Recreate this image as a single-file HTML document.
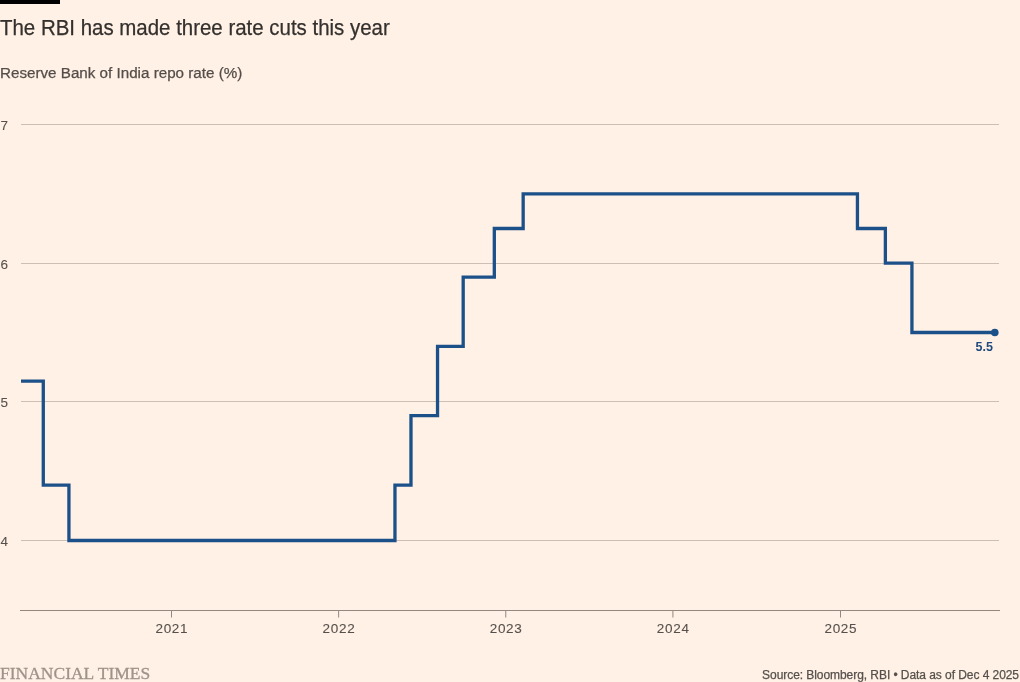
<!DOCTYPE html>
<html><head><meta charset="utf-8"><style>
html,body{margin:0;padding:0;background:#fff1e5;}
#wrap{position:absolute;left:0;top:0;width:1020px;height:682px;will-change:transform;}
body{width:1020px;height:682px;background:#fff1e5;position:relative;overflow:hidden;font-family:"Liberation Sans",sans-serif;}
.bar{position:absolute;left:0;top:0;width:60px;height:4px;background:#000;}
.t{position:absolute;white-space:nowrap;-webkit-text-stroke:0.25px currentColor;}
#title{left:0;top:15.8px;font-size:21.3px;letter-spacing:0px;transform:scaleX(0.96);transform-origin:0 0;line-height:24px;color:#33302e;}
#sub{left:0;top:64.2px;font-size:15.2px;line-height:18px;color:#544d49;}
#ft{left:0;top:662.6px;font-family:"Liberation Serif",serif;font-size:17.5px;transform:scaleX(1.0);transform-origin:0 0;-webkit-text-stroke:0.3px #9e9289;line-height:20px;color:#9e9289;letter-spacing:0px;}
#src{right:1px;top:666.8px;font-size:12px;letter-spacing:-0.06px;line-height:16px;color:#56504c;}
svg{position:absolute;left:0;top:0;}
</style></head><body><div id="wrap">
<div class="bar"></div>
<div class="t" id="title">The RBI has made three rate cuts this year</div>
<div class="t" id="sub">Reserve Bank of India repo rate (%)</div>
<svg width="1020" height="682" viewBox="0 0 1020 682">
<line x1="21" x2="999" y1="124.50" y2="124.50" stroke="#cdbfb3" stroke-width="1"/>
<text x="0.5" y="129.50" font-size="13.5" fill="#56504c" stroke="#56504c" stroke-width="0.1" font-family="Liberation Sans">7</text>
<line x1="21" x2="999" y1="263.50" y2="263.50" stroke="#cdbfb3" stroke-width="1"/>
<text x="0.5" y="268.50" font-size="13.5" fill="#56504c" stroke="#56504c" stroke-width="0.1" font-family="Liberation Sans">6</text>
<line x1="21" x2="999" y1="401.50" y2="401.50" stroke="#cdbfb3" stroke-width="1"/>
<text x="0.5" y="406.50" font-size="13.5" fill="#56504c" stroke="#56504c" stroke-width="0.1" font-family="Liberation Sans">5</text>
<line x1="21" x2="999" y1="540.50" y2="540.50" stroke="#cdbfb3" stroke-width="1"/>
<text x="0.5" y="545.50" font-size="13.5" fill="#56504c" stroke="#56504c" stroke-width="0.1" font-family="Liberation Sans">4</text>
<line x1="20" x2="1000" y1="610.5" y2="610.5" stroke="#928880" stroke-width="1"/>
<line x1="171.5" x2="171.5" y1="611" y2="617.5" stroke="#928880" stroke-width="1"/>
<text x="171.85" y="633" font-size="13.5" letter-spacing="0.7" fill="#56504c" stroke="#56504c" stroke-width="0.1" text-anchor="middle" font-family="Liberation Sans">2021</text>
<line x1="338.64" x2="338.64" y1="611" y2="617.5" stroke="#928880" stroke-width="1"/>
<text x="338.99" y="633" font-size="13.5" letter-spacing="0.7" fill="#56504c" stroke="#56504c" stroke-width="0.1" text-anchor="middle" font-family="Liberation Sans">2022</text>
<line x1="505.77" x2="505.77" y1="611" y2="617.5" stroke="#928880" stroke-width="1"/>
<text x="506.12" y="633" font-size="13.5" letter-spacing="0.7" fill="#56504c" stroke="#56504c" stroke-width="0.1" text-anchor="middle" font-family="Liberation Sans">2023</text>
<line x1="672.91" x2="672.91" y1="611" y2="617.5" stroke="#928880" stroke-width="1"/>
<text x="673.26" y="633" font-size="13.5" letter-spacing="0.7" fill="#56504c" stroke="#56504c" stroke-width="0.1" text-anchor="middle" font-family="Liberation Sans">2024</text>
<line x1="840.5" x2="840.5" y1="611" y2="617.5" stroke="#928880" stroke-width="1"/>
<text x="840.85" y="633" font-size="13.5" letter-spacing="0.7" fill="#56504c" stroke="#56504c" stroke-width="0.1" text-anchor="middle" font-family="Liberation Sans">2025</text>
<path d="M21.00,381.03 L43.29,381.03 L43.29,485.03 L68.93,485.03 L68.93,540.50 L394.96,540.50 L394.96,485.03 L410.98,485.03 L410.98,415.70 L437.54,415.70 L437.54,346.37 L463.19,346.37 L463.19,277.03 L494.32,277.03 L494.32,228.50 L523.17,228.50 L523.17,193.83 L857.44,193.83 L857.44,228.50 L885.37,228.50 L885.37,263.17 L911.93,263.17 L911.93,332.50 L994.81,332.50" fill="none" stroke="#1c5089" stroke-width="3.3" stroke-linejoin="miter" stroke-linecap="butt"/>
<circle cx="994.81" cy="332.50" r="3.8" fill="#1c5089"/>
<text x="993" y="351" font-size="12.5" font-weight="bold" fill="#204b7e" text-anchor="end" font-family="Liberation Sans">5.5</text>
</svg>
<div class="t" id="ft">FINANCIAL TIMES</div>
<div class="t" id="src">Source: Bloomberg, RBI &#8226; Data as of Dec 4 2025</div>
</div></body></html>
